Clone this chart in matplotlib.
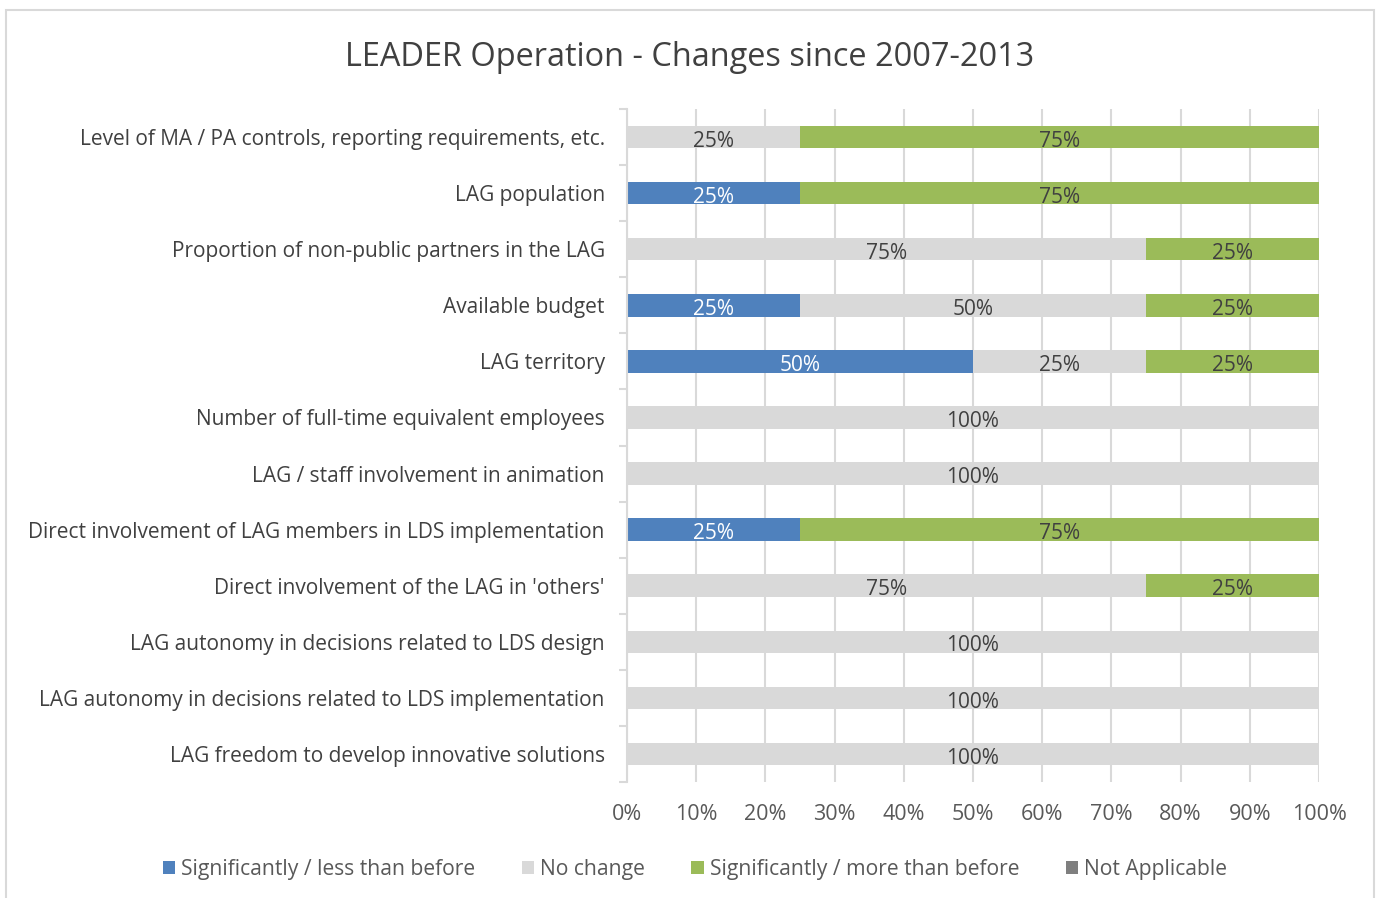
import numpy as np
import matplotlib.pyplot as plt
from matplotlib.patches import Rectangle

plt.rcParams['font.family'] = ['Open Sans', 'DejaVu Sans']

categories = [
    "Level of MA / PA controls, reporting requirements, etc.",
    "LAG population",
    "Proportion of non-public partners in the LAG",
    "Available budget",
    "LAG territory",
    "Number of full-time equivalent employees",
    "LAG / staff involvement in animation",
    "Direct involvement of LAG members in LDS implementation",
    "Direct involvement of the LAG in 'others'",
    "LAG autonomy in decisions related to LDS design",
    "LAG autonomy in decisions related to LDS implementation",
    "LAG freedom to develop innovative solutions",
]
less_before = [0, 25, 0, 25, 50, 0, 0, 25, 0, 0, 0, 0]
no_change = [25, 0, 75, 50, 25, 100, 100, 0, 75, 100, 100, 100]
more_before = [75, 75, 25, 25, 25, 0, 0, 75, 25, 0, 0, 0]
not_applicable = [0] * 12

series = [
    ("Significantly / less than before", less_before, "#4F81BD", "white"),
    ("No change", no_change, "#D9D9D9", "#404040"),
    ("Significantly / more than before", more_before, "#9BBB59", "#404040"),
    ("Not Applicable", not_applicable, "#7F7F7F", "white"),
]

fig = plt.figure(figsize=(13.76, 8.98), dpi=100)
W, H = 1376, 898
ax = fig.add_axes([627 / W, 1 - 782 / H, (1319 - 627) / W, (782 - 109) / H])

y = np.arange(len(categories))
left = np.zeros(len(categories))
for name, vals, col, tcol in series:
    vals = np.array(vals, dtype=float)
    ax.barh(y, vals, left=left, height=0.4, color=col, label=name, zorder=2)
    for yi, (l, v) in enumerate(zip(left, vals)):
        if v > 0:
            ax.text(l + v / 2, yi + 0.03, "%d%%" % v, ha='center', va='center_baseline',
                    fontsize=15, color=tcol, zorder=3)
    left += vals

ax.set_xlim(0, 100)
ax.set_ylim(len(categories) - 0.5, -0.5)
ax.set_xticks(np.arange(0, 101, 10))
ax.set_xticklabels(["%d%%" % t for t in range(0, 101, 10)])
ax.set_yticks(y)
ax.set_yticklabels(categories)
ax.set_yticks(np.arange(-0.5, len(categories)), minor=True)
ax.tick_params(axis='y', which='major', length=0, pad=16, labelsize=15, labelcolor='#404040')
ax.tick_params(axis='y', which='minor', length=6, width=1.5, color='#D9D9D9')
ax.tick_params(axis='x', length=0, pad=16, labelsize=15.5, labelcolor='#595959')
ax.grid(axis='x', color='#D9D9D9', lw=1.5, zorder=0)
for s in ['top', 'right', 'bottom']:
    ax.spines[s].set_visible(False)
ax.spines['left'].set_color('#D9D9D9')
ax.spines['left'].set_linewidth(1.5)

fig.text(690 / W, 1 - 58 / H, "LEADER Operation - Changes since 2007-2013",
         ha='center', va='center', fontsize=23.4, color='#404040')

fig.legend(loc='center', bbox_to_anchor=(695 / W, 1 - 869 / H), ncol=4,
           frameon=False, fontsize=15.2, handlelength=0.57, handleheight=0.57,
           handletextpad=0.3, columnspacing=2.2, labelcolor='#595959')

fig.patches.append(Rectangle((6 / W, -0.01), (1374 - 6) / W, 1 - 10 / H + 0.01,
                             transform=fig.transFigure, fill=False,
                             edgecolor='#D9D9D9', lw=1.5))

fig.savefig("out.png", dpi=100)
